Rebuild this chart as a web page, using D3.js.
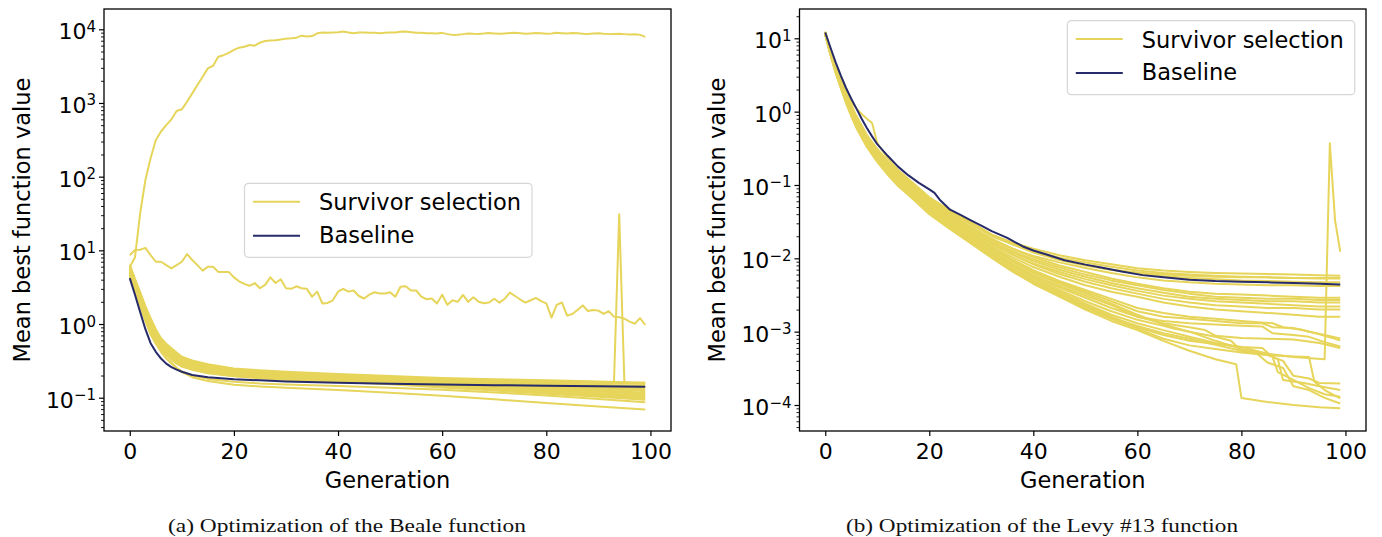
<!DOCTYPE html>
<html><head><meta charset="utf-8">
<script src="https://cdn.jsdelivr.net/npm/d3@7"></script>
<style>body{margin:0;background:#fff}svg{display:block}</style>
</head><body>
<svg id="chart" width="1382" height="537"></svg>
<script>
// ---------------- DATA ----------------
const generationTicks = [0, 20, 40, 60, 80, 100];
const legendLabels = ["Survivor selection", "Baseline"];
const yLabelText = "Mean best function value";
const xLabelText = "Generation";
const captions = ["(a) Optimization of the Beale function", "(b) Optimization of the Levy #13 function"];

// Beale: shared generations for the tight cluster of survivor-selection runs
const bealeGens = [0,1,2,3,4,5,6,7,8,9,10,12,15,20,25,30,40,50,60,70,80,90,99];
const bealeCluster = [
  [6.4,4.1,2.7,1.75,1.2,0.85,0.64,0.54,0.47,0.41,0.36,0.32,0.285,0.25,0.235,0.225,0.21,0.197,0.185,0.178,0.172,0.166,0.16],
  [6.1,3.9,2.55,1.65,1.12,0.8,0.61,0.51,0.45,0.39,0.345,0.305,0.275,0.243,0.23,0.22,0.205,0.192,0.18,0.172,0.165,0.158,0.153],
  [5.8,3.7,2.4,1.55,1.05,0.76,0.58,0.49,0.43,0.375,0.33,0.295,0.265,0.236,0.224,0.214,0.2,0.188,0.176,0.167,0.158,0.15,0.144],
  [5.6,3.55,2.3,1.48,1.0,0.72,0.56,0.47,0.41,0.36,0.32,0.285,0.257,0.23,0.218,0.208,0.195,0.183,0.171,0.161,0.152,0.143,0.137],
  [5.4,3.4,2.2,1.42,0.96,0.69,0.54,0.455,0.395,0.35,0.31,0.277,0.25,0.224,0.213,0.204,0.191,0.179,0.167,0.156,0.146,0.137,0.13],
  [5.2,3.3,2.12,1.36,0.92,0.66,0.52,0.44,0.385,0.34,0.302,0.27,0.244,0.219,0.208,0.199,0.187,0.175,0.163,0.152,0.141,0.131,0.123],
  [5.1,3.2,2.05,1.31,0.88,0.64,0.5,0.425,0.372,0.33,0.294,0.263,0.238,0.214,0.204,0.195,0.183,0.171,0.158,0.147,0.136,0.126,0.117],
  [4.95,3.1,1.98,1.26,0.84,0.61,0.49,0.415,0.362,0.32,0.286,0.256,0.232,0.209,0.199,0.191,0.178,0.166,0.154,0.142,0.131,0.121,0.112],
  [4.8,3.0,1.92,1.21,0.8,0.59,0.47,0.4,0.35,0.31,0.279,0.25,0.226,0.205,0.195,0.186,0.174,0.162,0.149,0.137,0.126,0.116,0.107],
  [4.7,2.9,1.86,1.16,0.77,0.57,0.46,0.39,0.34,0.3,0.272,0.245,0.221,0.2,0.19,0.182,0.17,0.158,0.145,0.132,0.121,0.111,0.102],
  [4.6,2.85,1.82,1.13,0.74,0.56,0.455,0.385,0.335,0.295,0.268,0.242,0.218,0.197,0.186,0.178,0.166,0.155,0.141,0.128,0.117,0.107,0.098],
  [4.5,2.8,1.8,1.1,0.72,0.55,0.45,0.38,0.33,0.29,0.265,0.24,0.215,0.195,0.183,0.175,0.163,0.152,0.138,0.125,0.113,0.103,0.094],
  [5.0,3.0,1.95,1.25,0.8,0.56,0.43,0.35,0.3,0.255,0.228,0.2,0.18,0.165,0.156,0.151,0.144,0.136,0.128,0.118,0.107,0.096,0.087],
  [4.8,2.9,1.88,1.2,0.77,0.54,0.42,0.34,0.29,0.25,0.222,0.19,0.168,0.15,0.142,0.136,0.127,0.117,0.106,0.095,0.085,0.076,0.069]
];
// Beale run with a one-generation spike (generation, value)
const bealeSpikeRun = [[0,5.9],[1,3.75],[2,2.45],[3,1.58],[4,1.07],[5,0.77],[6,0.59],[7,0.5],[8,0.44],[9,0.38],[10,0.335],[12,0.3],[15,0.27],[20,0.239],[25,0.226],[30,0.216],[40,0.202],[50,0.19],[60,0.179],[70,0.171],[80,0.166],[90,0.163],[93,0.162],[94,31],[95,0.161],[99,0.159]];
// Beale run that diverges to ~1e4 (one value per generation 0..99)
const bealeDivergingRun = [6.0,8.0,32,90,178,315,410,500,600,780,820,1040,1350,1750,2270,2950,3200,4250,4450,4800,
  5250,5630,5800,6120,6000,6580,6940,7050,7100,7250,7470,7550,7700,8190,8000,8100,8830,9050,8950,9050,
  9150,9350,9050,8850,9050,9050,8950,8950,8850,8950,9050,9050,9250,9350,9150,8950,8950,8850,8850,8750,
  8950,8600,8400,8450,8600,8800,8700,8650,8750,8900,8800,8700,8800,8900,8950,8850,8700,8800,8900,8850,
  8700,8800,8950,8850,8750,8900,8850,8700,8650,8800,8850,8700,8600,8650,8700,8600,8500,8550,8400,7900];
// Beale noisy run around 1..10 (one value per generation 0..99)
const bealeNoisyRun = [8.6,10.1,10.2,10.8,8.6,7.0,7.0,6.3,5.7,6.3,7.0,8.9,7.4,6.3,5.3,6.0,6.0,5.1,5.1,5.1,
  4.3,3.8,3.5,3.3,3.6,3.06,3.4,4.3,3.6,4.05,3.06,3.0,3.25,3.06,3.0,2.35,2.75,1.9,1.93,2.1,
  2.75,3.0,2.75,2.85,2.4,2.22,2.5,2.7,2.6,2.6,2.7,2.35,3.2,3.25,2.85,2.85,2.35,2.17,2.22,1.9,
  2.5,1.82,2.1,2.0,2.48,2.0,2.31,2.0,1.91,1.96,2.2,1.95,2.2,2.67,2.4,2.15,1.95,2.1,2.26,2.05,
  1.91,1.22,1.82,1.96,1.3,1.37,1.55,1.79,1.5,1.55,1.52,1.37,1.49,1.26,1.24,1.18,1.08,1.01,1.2,0.97];
const bealeBaseline = [[0,4.2],[1,2.5],[2,1.45],[3,0.85],[4,0.55],[5,0.42],[6,0.34],[7,0.29],[8,0.26],[9,0.24],[10,0.225],[12,0.203],[15,0.19],[20,0.178],[25,0.172],[30,0.166],[40,0.16],[50,0.155],[60,0.151],[70,0.148],[80,0.145],[90,0.143],[99,0.141]];

// Levy #13: survivor-selection runs as (generation, value)
const levyRuns = [
  [[0,12.0],[1,6.7],[2,4.1],[3,2.6],[4,1.7],[5,1.2],[6,0.85],[8,0.47],[10,0.3],[12,0.205],[14,0.148],[17,0.098],[20,0.064],[24,0.043],[28,0.03],[32,0.021],[36,0.0165],[40,0.0135],[45,0.011],[50,0.0094],[55,0.0083],[60,0.0073],[65,0.0068],[70,0.0065],[75,0.0063],[80,0.0062],[85,0.0061],[90,0.006],[95,0.0059],[99,0.0058]],
  [[0,11.8],[1,6.6],[2,4.0],[3,2.55],[4,1.65],[5,1.15],[6,0.82],[8,0.45],[10,0.29],[12,0.2],[14,0.142],[17,0.094],[20,0.061],[24,0.041],[28,0.029],[32,0.02],[36,0.0155],[40,0.0125],[45,0.0102],[50,0.0088],[55,0.0077],[60,0.0068],[65,0.0063],[70,0.006],[75,0.0058],[80,0.0056],[85,0.0055],[90,0.0054],[95,0.0053],[99,0.0053]],
  [[0,12.2],[1,6.8],[2,4.2],[3,2.7],[4,1.75],[5,1.22],[6,0.87],[8,0.48],[10,0.31],[12,0.21],[14,0.15],[17,0.1],[20,0.066],[24,0.044],[28,0.031],[32,0.021],[36,0.016],[40,0.0122],[45,0.0096],[50,0.0081],[55,0.007],[60,0.0062],[65,0.0057],[70,0.0054],[75,0.0052],[80,0.005],[85,0.0049],[90,0.0048],[95,0.0047],[99,0.0047]],
  [[0,11.6],[1,6.4],[2,3.8],[3,2.4],[4,1.55],[5,1.07],[6,0.76],[8,0.42],[10,0.27],[12,0.185],[14,0.132],[17,0.088],[20,0.057],[24,0.038],[28,0.026],[32,0.018],[36,0.0135],[40,0.0108],[45,0.0088],[50,0.0074],[55,0.0063],[60,0.0055],[65,0.005],[70,0.0047],[75,0.0045],[80,0.0044],[85,0.0043],[90,0.0043],[95,0.0042],[99,0.0042]],
  [[0,11.9],[1,6.5],[2,3.9],[3,2.5],[4,1.6],[5,1.1],[6,0.78],[8,0.43],[10,0.275],[12,0.19],[14,0.136],[17,0.09],[20,0.058],[24,0.039],[28,0.027],[32,0.0185],[36,0.0135],[40,0.0104],[45,0.008],[50,0.0065],[55,0.0053],[60,0.0045],[65,0.0039],[70,0.0035],[75,0.0033],[80,0.0032],[85,0.0031],[90,0.003],[95,0.0029],[99,0.0029]],
  [[0,11.4],[1,6.2],[2,3.7],[3,2.3],[4,1.5],[5,1.02],[6,0.72],[8,0.4],[10,0.255],[12,0.175],[14,0.125],[17,0.083],[20,0.054],[24,0.036],[28,0.025],[32,0.017],[36,0.0125],[40,0.0097],[45,0.0075],[50,0.006],[55,0.005],[60,0.0043],[65,0.0037],[70,0.0033],[75,0.003],[80,0.0029],[85,0.0028],[90,0.0028],[95,0.0027],[99,0.0027]],
  [[0,12.1],[1,6.6],[2,3.95],[3,2.5],[4,1.62],[5,1.12],[6,0.8],[8,0.44],[10,0.28],[12,0.19],[14,0.135],[17,0.088],[20,0.056],[24,0.037],[28,0.025],[32,0.0165],[36,0.012],[40,0.0092],[45,0.007],[50,0.0056],[55,0.0046],[60,0.0039],[65,0.0034],[70,0.003],[75,0.0028],[80,0.0027],[85,0.0026],[90,0.0026],[95,0.0025],[99,0.0025]],
  [[0,11.3],[1,6.1],[2,3.6],[3,2.25],[4,1.45],[5,0.98],[6,0.69],[8,0.38],[10,0.245],[12,0.168],[14,0.12],[17,0.08],[20,0.052],[24,0.034],[28,0.023],[32,0.0155],[36,0.0112],[40,0.0085],[45,0.0065],[50,0.0052],[55,0.0043],[60,0.0036],[65,0.0031],[70,0.0028],[75,0.0026],[80,0.0025],[85,0.0024],[90,0.0023],[95,0.0022],[99,0.0022]],
  [[0,11.7],[1,6.3],[2,3.75],[3,2.35],[4,1.5],[5,1.03],[6,0.73],[8,0.4],[10,0.255],[12,0.174],[14,0.124],[17,0.082],[20,0.053],[24,0.035],[28,0.0235],[32,0.0158],[36,0.0112],[40,0.0083],[45,0.0061],[50,0.0048],[55,0.0039],[60,0.0033],[65,0.0028],[70,0.0025],[75,0.0023],[80,0.0022],[85,0.0021],[90,0.0021],[95,0.002],[99,0.002]],
  [[0,11.5],[1,6.2],[2,3.65],[3,2.3],[4,1.47],[5,1.0],[6,0.7],[8,0.385],[10,0.245],[12,0.166],[14,0.118],[17,0.078],[20,0.05],[24,0.033],[28,0.022],[32,0.0145],[36,0.0103],[40,0.0076],[45,0.0056],[50,0.0043],[55,0.0035],[60,0.003],[65,0.0025],[70,0.0022],[75,0.002],[80,0.0019],[85,0.0018],[90,0.0017],[95,0.0016],[99,0.0016]],
  [[0,11.2],[1,6.0],[2,3.5],[3,2.2],[4,1.4],[5,0.95],[6,0.66],[8,0.365],[10,0.232],[12,0.157],[14,0.112],[17,0.074],[20,0.048],[24,0.031],[28,0.0205],[32,0.0135],[36,0.0092],[40,0.0066],[45,0.0047],[50,0.0035],[55,0.0026],[60,0.0019],[65,0.0016],[70,0.0015],[75,0.0014],[80,0.0013],[84,0.0013],[86,0.00115],[90,0.00112],[93,0.001],[96,0.0009],[99,0.00081]],
  [[0,12.0],[1,6.5],[2,3.85],[3,2.4],[4,1.55],[5,1.05],[6,0.74],[8,0.405],[10,0.258],[12,0.175],[14,0.124],[17,0.081],[20,0.051],[24,0.033],[28,0.0215],[32,0.014],[36,0.0096],[40,0.0069],[45,0.0049],[50,0.0037],[55,0.0028],[60,0.0021],[65,0.0018],[70,0.0016],[75,0.0015],[80,0.0014],[86,0.0013],[88,0.00115],[92,0.00105],[95,0.00092],[99,0.00076]],
  [[0,11.4],[1,6.1],[2,3.55],[3,2.2],[4,1.4],[5,0.94],[6,0.65],[8,0.355],[10,0.225],[12,0.152],[14,0.108],[17,0.07],[20,0.045],[24,0.029],[28,0.019],[32,0.0123],[36,0.0083],[40,0.0059],[45,0.0042],[50,0.0031],[55,0.0023],[60,0.0016],[65,0.0014],[70,0.0013],[75,0.00125],[80,0.0012],[84,0.00118],[86,0.00095],[90,0.0009],[93,0.00085],[96,0.00072],[99,0.00063]],
  [[0,11.8],[1,6.4],[2,3.7],[3,2.3],[4,1.45],[5,0.97],[6,0.67],[8,0.365],[10,0.23],[12,0.155],[14,0.11],[17,0.072],[20,0.046],[24,0.0295],[28,0.0193],[32,0.0125],[36,0.0084],[40,0.0058],[45,0.004],[50,0.0029],[55,0.0021],[60,0.0016],[65,0.0013],[70,0.00115],[73,0.00105],[75,0.00088],[80,0.00082],[85,0.0008],[90,0.00078],[95,0.0007],[99,0.0006]],
  [[0,11.3],[1,6.0],[2,3.45],[3,2.15],[4,1.36],[5,0.91],[6,0.63],[8,0.345],[10,0.218],[12,0.147],[14,0.104],[17,0.068],[20,0.0435],[24,0.028],[28,0.0183],[32,0.0118],[36,0.0079],[40,0.0055],[45,0.0037],[50,0.0026],[55,0.0019],[60,0.00145],[65,0.0012],[67,0.0011],[70,0.001],[75,0.00085],[78,0.00075],[80,0.00055],[85,0.00048],[88,0.0004],[90,0.00025],[93,0.00023],[95,0.0002],[99,0.000196]],
  [[0,11.6],[1,6.2],[2,3.6],[3,2.22],[4,1.4],[5,0.93],[6,0.64],[8,0.35],[10,0.22],[12,0.148],[14,0.104],[17,0.068],[20,0.043],[24,0.0275],[28,0.0178],[32,0.0114],[36,0.0076],[40,0.0052],[45,0.0035],[50,0.0024],[55,0.0017],[60,0.0013],[65,0.00105],[70,0.00085],[75,0.0007],[80,0.00062],[85,0.0005],[87,0.00042],[88,0.00022],[92,0.0002],[95,0.00018],[99,0.00016]],
  [[0,11.2],[1,5.95],[2,3.4],[3,2.1],[4,1.33],[5,0.88],[6,0.61],[8,0.335],[10,0.21],[12,0.141],[14,0.1],[17,0.065],[20,0.041],[24,0.026],[28,0.0168],[32,0.0107],[36,0.0071],[40,0.0049],[45,0.0033],[50,0.0023],[55,0.0016],[60,0.00115],[65,0.0009],[70,0.00075],[75,0.00068],[80,0.00062],[84,0.0006],[86,0.00045],[87,0.00028],[90,0.00022],[93,0.00017],[96,0.00014],[99,0.00013]],
  [[0,11.5],[1,6.1],[2,3.5],[3,2.15],[4,1.35],[5,0.9],[6,0.62],[8,0.34],[10,0.213],[12,0.143],[14,0.101],[17,0.066],[20,0.0415],[24,0.0262],[28,0.0168],[32,0.0105],[36,0.0069],[40,0.0047],[45,0.0031],[50,0.0021],[55,0.0015],[60,0.0011],[65,0.0008],[70,0.00065],[75,0.00058],[80,0.00052],[85,0.00048],[90,0.00046],[93,0.00045],[94,0.00021],[96,0.00016],[99,0.000123]],
  [[0,11.3],[1,6.0],[2,3.4],[3,2.1],[4,1.32],[5,0.87],[6,0.6],[8,0.33],[10,0.207],[12,0.138],[14,0.097],[17,0.063],[20,0.04],[24,0.025],[28,0.016],[32,0.0101],[36,0.0066],[40,0.0045],[45,0.003],[50,0.002],[55,0.0014],[60,0.00105],[65,0.00075],[70,0.00055],[75,0.00042],[79,0.00036],[80,0.000125],[85,0.00011],[90,0.0001],[95,0.000093],[99,0.00009]],
  [[0,11.7],[1,6.3],[2,3.6],[3,2.2],[4,1.38],[5,0.92],[6,0.63],[8,0.345],[10,0.216],[12,0.145],[14,0.102],[17,0.066],[20,0.042],[24,0.0265],[28,0.017],[32,0.0107],[36,0.007],[40,0.0048],[45,0.0032],[50,0.0022],[55,0.00155],[60,0.0012],[65,0.00095],[70,0.0008],[75,0.00066],[80,0.00055],[83,0.0005],[85,0.00038],[88,0.00032],[90,0.00018],[93,0.00016],[96,0.000125],[99,0.000105]],
  [[0,11.9],[1,6.5],[2,3.8],[3,2.35],[4,1.5],[5,1.0],[6,0.7],[8,0.385],[10,0.245],[12,0.165],[14,0.117],[17,0.076],[20,0.049],[24,0.031],[28,0.0205],[32,0.0133],[36,0.009],[40,0.0063],[45,0.0045],[50,0.0033],[55,0.0024],[60,0.0017],[65,0.00125],[70,0.001],[75,0.00075],[80,0.00058],[85,0.0005],[90,0.00045],[96,0.00042],[97,0.37],[98,0.033],[99,0.0123]],
  [[0,12.4],[1,7.0],[2,4.35],[3,2.8],[4,1.85],[5,1.35],[6,1.1],[7,0.93],[8,0.8],[9,0.7],[10,0.37],[12,0.23],[14,0.16],[17,0.105],[20,0.068],[24,0.045],[28,0.031],[32,0.021],[36,0.0155],[40,0.012],[45,0.0095],[50,0.008],[55,0.007],[60,0.0064],[65,0.006],[70,0.0058],[75,0.0056],[80,0.0055],[85,0.0055],[90,0.0054],[95,0.0054],[99,0.0054]]
];
const levyBaseline = [[0,12],[1,7.5],[2,4.7],[3,3.1],[4,2.1],[5,1.5],[6,1.1],[7,0.8],[8,0.6],[9,0.46],[10,0.36],[12,0.25],[14,0.178],[16,0.135],[18,0.107],[20,0.087],[21,0.078],[22,0.063],[24,0.046],[26,0.039],[28,0.033],[30,0.028],[32,0.0235],[35,0.019],[38,0.0145],[40,0.0128],[43,0.011],[46,0.0094],[50,0.0082],[53,0.0075],[57,0.0066],[61,0.0059],[65,0.0055],[70,0.0051],[75,0.0049],[80,0.0048],[85,0.0047],[90,0.0046],[95,0.0045],[99,0.0044]];

// ---------------- DRAWING ----------------
const YELLOW = "#e6d55a", NAVY = "#272b69";
const FONT = "DejaVu Sans";
const svg = d3.select("#chart");

const bealeRuns = bealeCluster.map(vals => vals.map((v, i) => [bealeGens[i], v]));
bealeRuns.push(bealeSpikeRun);
bealeRuns.push(bealeDivergingRun.map((v, i) => [i, v]));
bealeRuns.push(bealeNoisyRun.map((v, i) => [i, v]));

const panels = [
  {id: "a", left: 104, right: 671, top: 9, bottom: 431, yLog: [-1.452, 4.2755], runs: bealeRuns, baseline: bealeBaseline,
   legend: {x: 244.5, y: 183.3}, ylabelX: 30, caption: captions[0], capX: 168, capLen: 358},
  {id: "b", left: 799.5, right: 1366, top: 9, bottom: 431, yLog: [-4.3545, 1.3995], runs: levyRuns, baseline: levyBaseline,
   legend: {x: 1067.3, y: 20.7}, ylabelX: 725, caption: captions[1], capX: 846, capLen: 392}
];

function supText(sel, exp) {
  sel.text(null);
  sel.append("tspan").text("10");
  sel.append("tspan").attr("dy", -7.5).attr("font-size", 15).text(exp < 0 ? "\u2212" + Math.abs(exp) : String(exp));
}

panels.forEach(p => {
  const x = d3.scaleLinear().domain([-4.95, 103.95]).range([p.left, p.right]);
  const y = d3.scaleLog().domain([Math.pow(10, p.yLog[0]), Math.pow(10, p.yLog[1])]).range([p.bottom, p.top]);
  const g = svg.append("g");
  svg.append("clipPath").attr("id", "clip" + p.id).append("rect")
    .attr("x", p.left).attr("y", p.top).attr("width", p.right - p.left).attr("height", p.bottom - p.top);
  const plot = g.append("g").attr("clip-path", `url(#clip${p.id})`);
  const line = d3.line().x(d => x(d[0])).y(d => y(d[1]));
  p.runs.forEach(r => plot.append("path").attr("d", line(r)).attr("fill", "none")
    .attr("stroke", YELLOW).attr("stroke-width", 2).attr("stroke-linejoin", "round"));
  plot.append("path").attr("d", line(p.baseline)).attr("fill", "none")
    .attr("stroke", NAVY).attr("stroke-width", 2).attr("stroke-linejoin", "round");

  // x axis
  const xa = g.append("g").attr("transform", `translate(0,${p.bottom})`)
    .call(d3.axisBottom(x).tickValues(generationTicks).tickSize(5).tickFormat(d3.format("d")));
  xa.select(".domain").remove();
  xa.selectAll(".tick line").attr("stroke", "#000").attr("stroke-width", 1.2);
  xa.selectAll(".tick text").attr("y", 28).attr("dy", 0).attr("font-family", FONT).attr("font-size", 22).attr("fill", "#000");

  // y axis majors
  const lo = Math.ceil(p.yLog[0]), hi = Math.floor(p.yLog[1]);
  const majors = d3.range(lo, hi + 1).map(e => Math.pow(10, e));
  const minors = [];
  for (let e = Math.floor(p.yLog[0]); e <= Math.ceil(p.yLog[1]); e++) {
    for (let k = 2; k <= 9; k++) {
      const v = k * Math.pow(10, e);
      if (Math.log10(v) > p.yLog[0] && Math.log10(v) < p.yLog[1]) minors.push(v);
    }
  }
  const ya = g.append("g").attr("transform", `translate(${p.left},0)`)
    .call(d3.axisLeft(y).tickValues(majors).tickSize(5).tickFormat(""));
  ya.select(".domain").remove();
  ya.selectAll(".tick line").attr("stroke", "#000").attr("stroke-width", 1.2);
  ya.selectAll(".tick text").attr("x", -8).attr("y", 9.5).attr("dy", 0).attr("text-anchor", "end")
    .attr("font-family", FONT).attr("font-size", 22).attr("fill", "#000")
    .each(function(d) { supText(d3.select(this), Math.round(Math.log10(d))); });
  const ym = g.append("g").attr("transform", `translate(${p.left},0)`)
    .call(d3.axisLeft(y).tickValues(minors).tickSize(3).tickFormat(""));
  ym.select(".domain").remove();
  ym.selectAll(".tick line").attr("stroke", "#000").attr("stroke-width", 0.9);

  // frame
  g.append("rect").attr("x", p.left).attr("y", p.top).attr("width", p.right - p.left).attr("height", p.bottom - p.top)
    .attr("fill", "none").attr("stroke", "#000").attr("stroke-width", 1.3);

  // labels
  g.append("text").attr("x", (p.left + p.right) / 2).attr("y", 488).attr("text-anchor", "middle")
    .attr("font-family", FONT).attr("font-size", 22.5).text(xLabelText);
  g.append("text").attr("transform", `translate(${p.ylabelX},${(p.top + p.bottom) / 2}) rotate(-90)`)
    .attr("text-anchor", "middle").attr("font-family", FONT).attr("font-size", 22.5).text(yLabelText);

  // legend
  const L = g.append("g").attr("transform", `translate(${p.legend.x},${p.legend.y})`);
  L.append("rect").attr("width", 287.5).attr("height", 74).attr("rx", 4)
    .attr("fill", "#fff").attr("fill-opacity", 0.8).attr("stroke", "#d6d6d6").attr("stroke-width", 1.2);
  [YELLOW, NAVY].forEach((c, i) => {
    const cy = i === 0 ? 18.4 : 52.4;
    L.append("line").attr("x1", 8.5).attr("x2", 55.5).attr("y1", cy).attr("y2", cy).attr("stroke", c).attr("stroke-width", 2);
    L.append("text").attr("x", 74.5).attr("y", i === 0 ? 27.2 : 59.5).attr("font-family", FONT).attr("font-size", 22.5)
      .text(legendLabels[i]);
  });

  // caption
  svg.append("text").attr("x", p.capX).attr("y", 532).attr("font-family", "Liberation Serif")
    .attr("font-size", 19).attr("fill", "#111")
    .attr("textLength", p.capLen).attr("lengthAdjust", "spacingAndGlyphs").text(p.caption);
});
</script>
</body></html>
